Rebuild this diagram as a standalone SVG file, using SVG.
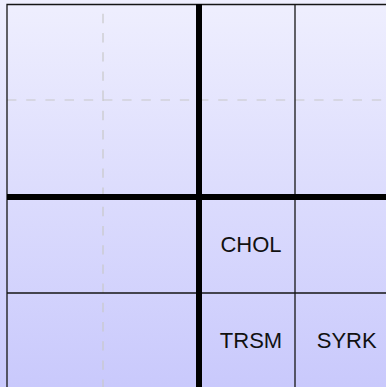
<svg xmlns="http://www.w3.org/2000/svg" width="386" height="387" viewBox="0 0 386 387">
  <defs>
    <linearGradient id="bg" x1="0" y1="0" x2="0" y2="1">
      <stop offset="0" stop-color="#efeffe"/>
      <stop offset="1" stop-color="#c9c9fc"/>
    </linearGradient>
    <style>
      .dash { stroke: #c8c8c8; stroke-width: 1.2; fill: none; stroke-dasharray: 9.4 9.8; }
      .thin { stroke: #151515; stroke-width: 1.3; fill: none; }
      .thick { stroke: #000; stroke-width: 6; fill: none; }
      .lbl { font-family: "Liberation Sans", Arial, sans-serif; font-size: 22px; fill: #111; text-anchor: middle; }
    </style>
  </defs>
  <rect x="0" y="0" width="386" height="387" fill="url(#bg)"/>
  <g id="grid-dashed">
    <path class="dash" d="M103 100 V4.5"/>
    <path class="dash" d="M103 197 V100"/>
    <path class="dash" d="M103 293 V197"/>
    <path class="dash" d="M103 389 V293"/>
    <path class="dash" d="M7 100 H103"/>
    <path class="dash" d="M103 100 H199"/>
    <path class="dash" d="M199 100 H295"/>
    <path class="dash" d="M295 100 H391"/>
  </g>
  <g id="grid-lines">
    <path class="thin" d="M7 390 V4.5 H390"/>
    <path class="thin" d="M295 4.5 V390"/>
    <path class="thin" d="M7 293 H390"/>
    <path class="thick" d="M199 4 V390"/>
    <path class="thick" d="M7 197 H390"/>
  </g>
  <g id="chol"><text class="lbl" x="251" y="252.3">CHOL</text></g>
  <g id="trsm"><text class="lbl" x="251" y="347.7">TRSM</text></g>
  <g id="syrk"><text class="lbl" x="346.7" y="347.7">SYRK</text></g>
</svg>
